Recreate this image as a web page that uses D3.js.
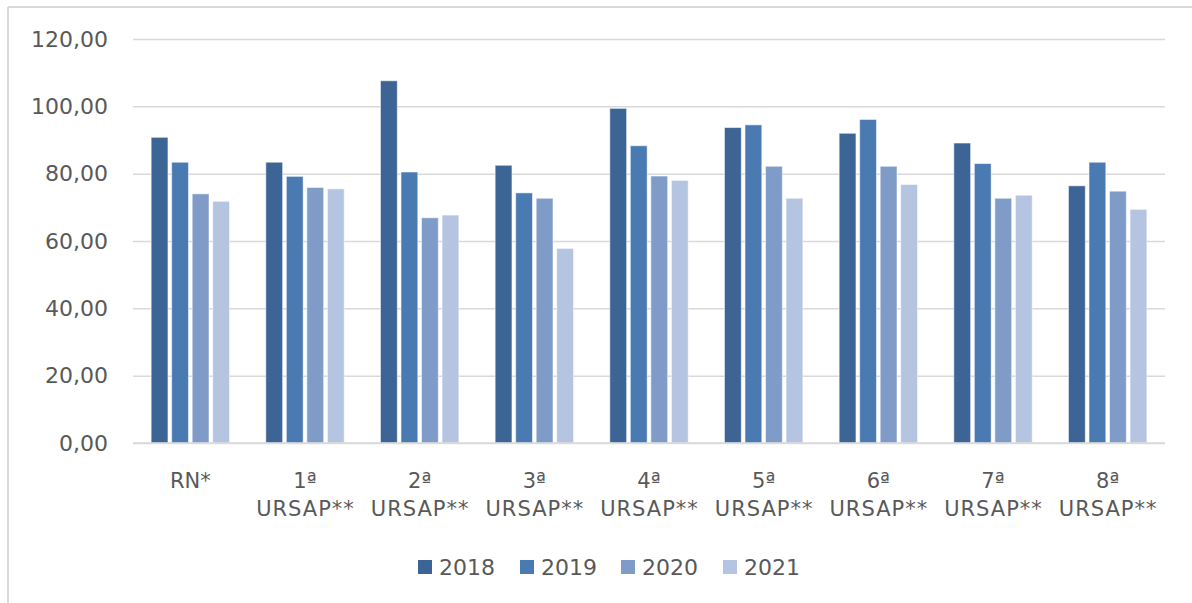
<!DOCTYPE html>
<html>
<head>
<meta charset="utf-8">
<script src="https://cdn.jsdelivr.net/npm/d3@7"></script>
<style>
  html, body { margin: 0; padding: 0; background: #ffffff; }
  svg { display: block; }
  text { font-family: "DejaVu Sans", sans-serif; fill: #595959; }
</style>
</head>
<body>
<svg id="chart" width="1192" height="603"></svg>
<script>
const categories = [
  ["RN*"],
  ["1ª", "URSAP**"],
  ["2ª", "URSAP**"],
  ["3ª", "URSAP**"],
  ["4ª", "URSAP**"],
  ["5ª", "URSAP**"],
  ["6ª", "URSAP**"],
  ["7ª", "URSAP**"],
  ["8ª", "URSAP**"]
];
const years = ["2018", "2019", "2020", "2021"];
const values2018 = [90.8, 83.4, 107.6, 82.5, 99.4, 93.7, 92.0, 89.1, 76.4];
const values2019 = [83.4, 79.2, 80.5, 74.3, 88.3, 94.5, 96.1, 83.0, 83.4];
const values2020 = [74.0, 75.9, 66.9, 72.7, 79.3, 82.2, 82.2, 72.7, 74.8];
const values2021 = [71.8, 75.5, 67.7, 57.8, 78.0, 72.7, 76.8, 73.6, 69.4];
const yTicks = [0, 20, 40, 60, 80, 100, 120];
const colors = ["#3c6595", "#4a7ab2", "#7f9cc8", "#b5c4e0"];

const series = [values2018, values2019, values2020, values2021];
const catKeys = categories.map((c, i) => "c" + i);

const svg = d3.select("#chart");

// outer frame (partially visible)
svg.append("line").attr("x1", 8).attr("x2", 1192).attr("y1", 7).attr("y2", 7)
  .attr("stroke", "#d9d9d9").attr("stroke-width", 2);
svg.append("line").attr("x1", 8).attr("x2", 8).attr("y1", 7).attr("y2", 603)
  .attr("stroke", "#d9d9d9").attr("stroke-width", 2);

const plotLeft = 133, plotRight = 1165, plotTop = 39, plotBottom = 443;

const x0 = d3.scaleBand().domain(catKeys).range([plotLeft, plotRight]).paddingInner(0).paddingOuter(0);
const bw = x0.bandwidth();
const x1 = d3.scaleBand().domain(years).range([bw / 2 - 39.2, bw / 2 + 39.2]).paddingInner(0.18).paddingOuter(0);
const y = d3.scaleLinear().domain([0, 120]).range([plotBottom, plotTop]);

const locale = d3.formatLocale({ decimal: ",", thousands: ".", grouping: [3], currency: ["", ""] });
const fmt = locale.format(".2f");

// gridlines
const yAxis = d3.axisLeft(y).tickValues(yTicks).tickSize(-(plotRight - plotLeft)).tickFormat(fmt).tickPadding(25);
const gy = svg.append("g").attr("transform", `translate(${plotLeft},0)`).call(yAxis);
gy.select(".domain").remove();
gy.selectAll(".tick line").attr("stroke", "#d9d9d9").attr("stroke-width", 1.5);
gy.selectAll(".tick text").attr("font-size", 22).attr("fill", "#595959")
  .attr("font-family", "DejaVu Sans, sans-serif");

// bars
const groups = svg.append("g").selectAll("g").data(catKeys).join("g")
  .attr("transform", d => `translate(${x0(d)},0)`);
groups.selectAll("rect")
  .data((d, i) => years.map((yr, j) => ({ yr, j, v: series[j][i] })))
  .join("rect")
  .attr("x", d => x1(d.yr))
  .attr("width", x1.bandwidth())
  .attr("y", d => y(d.v))
  .attr("height", d => y(0) - y(d.v))
  .attr("fill", d => colors[d.j])
  .attr("stroke", "rgba(255,255,255,0.55)")
  .attr("stroke-width", 1);

// x axis line
svg.append("line").attr("x1", plotLeft).attr("x2", plotRight).attr("y1", y(0)).attr("y2", y(0))
  .attr("stroke", "#d9d9d9").attr("stroke-width", 1.5);

// x labels
const xl = svg.append("g").selectAll("text").data(categories).join("text")
  .attr("text-anchor", "middle")
  .attr("font-size", 21)
  .attr("x", (d, i) => x0(catKeys[i]) + bw / 2)
  .attr("y", 488);
xl.each(function (d) {
  const t = d3.select(this);
  d.forEach((line, k) => {
    t.append("tspan").attr("x", +t.attr("x") + (k === 0 ? 0 : 0.5)).attr("dy", k === 0 ? 0 : 28)
      .attr("letter-spacing", k === 0 ? 0 : 1)
      .text(line);
  });
});

// legend
const legend = svg.append("g");
const lx = [418, 520, 621, 723];
years.forEach((yr, j) => {
  legend.append("rect").attr("x", lx[j]).attr("y", 560).attr("width", 14).attr("height", 14)
    .attr("fill", colors[j]);
  legend.append("text").attr("x", lx[j] + 21).attr("y", 575).attr("font-size", 22).text(yr);
});
</script>
</body>
</html>
